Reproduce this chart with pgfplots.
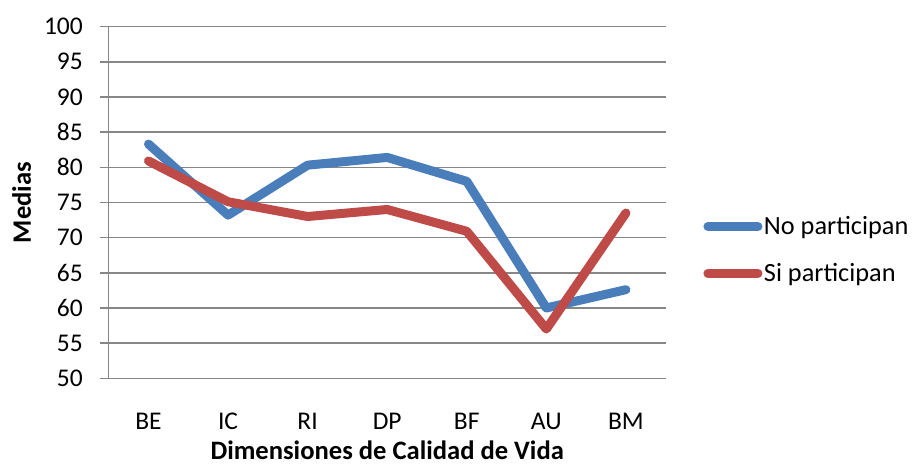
\documentclass[border=0pt]{standalone}
\usepackage{fontspec}
\setmainfont{Carlito}
\usepackage{pgfplots}
\pgfplotsset{compat=1.18}
\definecolor{cblue}{HTML}{4A7EBB}
\definecolor{cred}{HTML}{BE4B48}
\definecolor{cgrid}{HTML}{868686}
\begin{document}
\begin{tikzpicture}[x=1pt,y=1pt]
\useasboundingbox (-108.7,-86.7) rectangle (803.3,378.3);
\begin{axis}[
  at={(0,0)}, anchor=south west,
  scale only axis,
  width=557pt, height=351.7pt,
  xmin=-0.5, xmax=6.5,
  ymin=50, ymax=100,
  ytick={50,55,...,100},
  xtick={0,...,6},
  xticklabels={BE,IC,RI,DP,BF,AU,BM},
  tick label style={font=\fontsize{25.5}{30}\selectfont},
  /pgf/number format/assume math mode=true,
  ymajorgrids,
  grid style={cgrid, line width=1.5pt},
  axis line style={cgrid, line width=1.5pt},
  axis x line*=bottom,
  axis y line*=left,
  x axis line style={-},
  y axis line style={-},
  tick align=outside,
  major tick length=8.7pt,
  ytick style={cgrid, line width=1.5pt},
  xtick style={draw=none},
  yticklabel style={anchor=east, inner sep=0pt, xshift=-17pt},
  xticklabel style={anchor=base, inner sep=0pt, yshift=-42.7pt},
  every axis x label/.style={at={(axis description cs:0.5,0)}, anchor=base, inner sep=0pt, yshift=-81pt, font=\fontsize{26.6}{30}\selectfont\bfseries},
  every axis y label/.style={at={(axis description cs:-0.1562,0.5)}, anchor=center, inner sep=0pt, rotate=90, font=\fontsize{26.6}{30}\selectfont\bfseries},
  xlabel={Dimensiones de Calidad de Vida},
  ylabel={Medias},
  legend style={at={(1.062,0.365)}, anchor=west, draw=none, fill=none,
    font=\fontsize{26.3}{30}\selectfont, row sep=24pt,
    nodes={inner sep=1.5pt, anchor=west}},
  legend cell align=left,
  legend image code/.code={\draw[#1, line cap=round] (0pt,0pt) -- (50pt,0pt);},
]
\addplot[cblue, line width=9pt, line join=round, line cap=round] coordinates {
(0,83.3) (1,73.2) (2,80.3) (3,81.4) (4,78.0) (5,60.0) (6,62.6)};
\addlegendentry{No participan}
\addplot[cred, line width=9pt, line join=round, line cap=round] coordinates {
(0,80.9) (1,75.1) (2,73.0) (3,74.0) (4,70.9) (5,57.0) (6,73.5)};
\addlegendentry{Si participan}
\end{axis}
\end{tikzpicture}
\end{document}
